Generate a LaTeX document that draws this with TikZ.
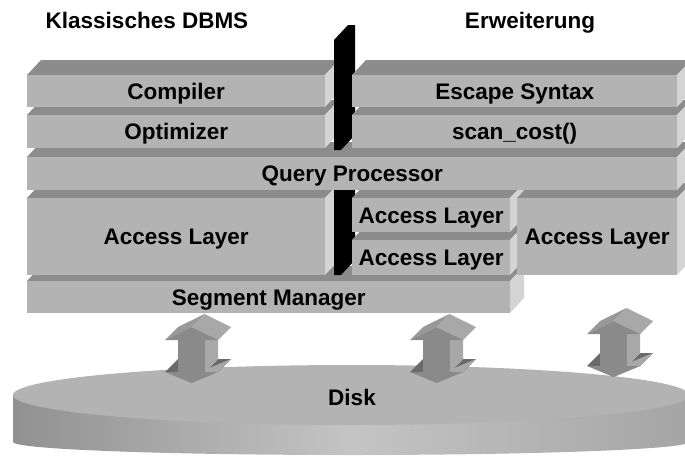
\documentclass[tikz,border=0pt]{standalone}
\usepackage{fontspec}
\setmainfont{Liberation Sans}

\definecolor{frontgray}{RGB}{179,179,179}
\definecolor{topgray}{RGB}{140,140,140}
\definecolor{sidegray}{RGB}{212,212,212}
\definecolor{arrowfront}{RGB}{138,138,138}
\definecolor{arrowtop}{RGB}{152,152,152}
\definecolor{arrowside}{RGB}{168,168,168}
\definecolor{arrowwing}{RGB}{106,106,106}
\definecolor{disktop}{RGB}{179,179,179}
\definecolor{diskdark}{RGB}{145,145,145}
\definecolor{disklight}{RGB}{196,196,196}
\definecolor{diskright}{RGB}{165,165,165}

\tikzset{
    slabfront/.style={fill=frontgray, inner sep=0pt, font=\fontsize{22.5}{27}\selectfont\bfseries,
        text height=16.1pt, text depth=0pt},
    headlbl/.style={font=\fontsize{22.5}{27}\selectfont\bfseries, inner sep=0pt, anchor=base},
}

% one layer: name, left x, top y, width, height, text
\newcommand{\dbslab}[6]{%
    \fill[topgray] (#2,#3) -- ++(14,-15) -- ++(#4,0) -- ++(-14,15) -- cycle;
    \fill[sidegray] ({#2+#4},#3) -- ++(14,-15) -- ++(0,#5) -- ++(-14,15) -- cycle;
    \node[slabfront, minimum width=#4, minimum height=#5, anchor=north west] (#1) at (#2,#3) {#6};
}

\begin{document}
\begin{tikzpicture}[x=1pt, y=-1pt]
    \useasboundingbox (0,0) rectangle (685,456);

    % Headers
    \node[headlbl] (klassisch) at (147,28) {Klassisches DBMS};
    \node[headlbl] (erweiterung) at (530,28) {Erweiterung};

    % Disk
    \shade[left color=diskdark, right color=diskright, middle color=disklight]
        (13,395) -- (13,442) arc[start angle=180, end angle=0, x radius=338, y radius=13]
        -- (689,395) -- cycle;
    \fill[disktop] (351,395) ellipse [x radius=338, y radius=30];
    \node[headlbl, anchor=center, text height=16.1pt, text depth=0pt] (disk) at (352,397) {Disk};

    % Arrows between segment layer and disk
    \foreach \sx/\sy in {0/0, 245/0, 422/-6}{
        \begin{scope}[shift={(\sx,\sy)}]
            \fill[arrowwing] (165,372) -- (178,372) -- (191,359) -- (178,359) -- cycle;
            \fill[arrowwing] (205,372) -- (218,372) -- (231,359) -- (218,359) -- cycle;
            \fill[arrowside] (218,372) -- (231,359) -- (204.5,370) -- (191.5,383) -- cycle;
            \fill[arrowfront] (165,372) -- (218,372) -- (191.5,383) -- cycle;
            \fill[arrowside] (205,340) -- (218,327) -- (218,359) -- (205,372) -- cycle;
            \fill[arrowfront] (178,340) rectangle (205,372);
            \fill[arrowtop] (165,340) -- (191.5,327) -- (204.5,314) -- (178,327) -- cycle;
            \fill[arrowside] (191.5,327) -- (218,340) -- (231,327) -- (204.5,314) -- cycle;
            \fill[arrowfront] (165,340) -- (218,340) -- (191.5,327) -- cycle;
        \end{scope}
    }

    % Lower layers
    \dbslab{segment}{27}{281}{483}{32}{Segment Manager}
    \dbslab{accessA}{27}{198}{298}{77}{Access Layer}
    \fill[black] (334,170) -- (348,155) -- (355,155) -- (355,260) -- (341,275) -- (334,275) -- cycle;
    \dbslab{accessC}{352}{240}{158}{35}{Access Layer}
    \dbslab{accessB}{352}{198}{158}{34}{Access Layer}
    \dbslab{accessD}{517}{198}{160}{77}{Access Layer}
    \dbslab{query}{27}{157}{650}{33}{Query Processor}

    % Upper layers
    \dbslab{optimizer}{27}{115}{298}{33}{Optimizer}
    \dbslab{compiler}{27}{75}{298}{32}{Compiler}
    \fill[black] (334,40) -- (348,25) -- (355,25) -- (355,135) -- (341,150) -- (334,150) -- cycle;
    \dbslab{scancost}{352}{115}{325}{33}{scan\_cost()}
    \dbslab{escape}{352}{75}{325}{32}{Escape Syntax}
\end{tikzpicture}
\end{document}
